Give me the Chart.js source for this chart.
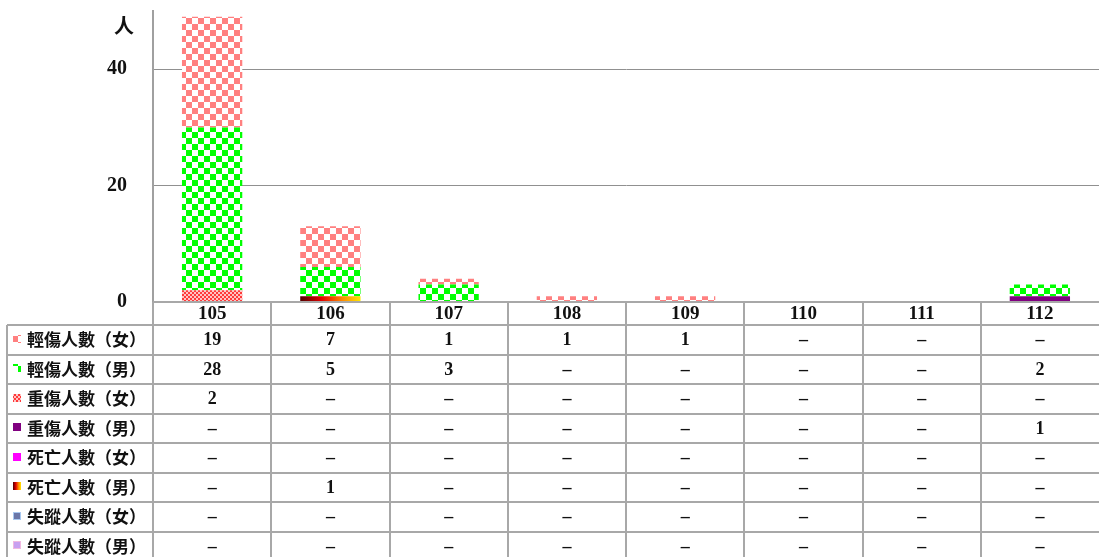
<!DOCTYPE html>
<html>
<head>
<meta charset="utf-8">
<script src="https://cdn.jsdelivr.net/npm/chart.js@4/dist/chart.umd.min.js"></script>
<style>
html,body{margin:0;padding:0;background:#fff;}
#wrap{width:1099px;height:557px;position:relative;}
</style>
</head>
<body>
<div id="wrap"><canvas id="c" width="1099" height="557"></canvas></div>
<script>
const categories = ['105','106','107','108','109','110','111','112'];
const seriesNames = ['輕傷人數（女）','輕傷人數（男）','重傷人數（女）','重傷人數（男）','死亡人數（女）','死亡人數（男）','失蹤人數（女）','失蹤人數（男）'];
const lightFemale  = [19,7,1,1,1,0,0,0];
const lightMale    = [28,5,3,0,0,0,0,2];
const heavyFemale  = [2,0,0,0,0,0,0,0];
const heavyMale    = [0,0,0,0,0,0,0,1];
const deathFemale  = [0,0,0,0,0,0,0,0];
const deathMale    = [0,1,0,0,0,0,0,0];
const missFemale   = [0,0,0,0,0,0,0,0];
const missMale     = [0,0,0,0,0,0,0,0];
const yTicks = [0,20,40];
const yUnit = '人';

const seriesValues = [lightFemale, lightMale, heavyFemale, heavyMale, deathFemale, deathMale, missFemale, missMale];

const SERIF = '"Liberation Serif", "Noto Sans CJK TC", serif';
const CJK = '"Noto Sans CJK TC", "Liberation Serif", serif';

function checker(c1, c2, s) {
  const cv = document.createElement('canvas');
  cv.width = cv.height = s * 2;
  const g = cv.getContext('2d');
  g.fillStyle = c2; g.fillRect(0, 0, s * 2, s * 2);
  g.fillStyle = c1; g.fillRect(0, 0, s, s); g.fillRect(s, s, s, s);
  return g.createPattern(cv, 'repeat');
}
const pinkPat = checker('#FF8080', '#FFFFFF', 6);
const greenPat = checker('#00FF00', '#FFFFFF', 6);
const redPat = checker('#FF3A3A', '#FFC4C4', 2);

const CAT_PCT = 0.51;
function deathGradient(ctx) {
  const chart = ctx.chart;
  const xs = chart.scales && chart.scales.x;
  if (!xs || !chart.chartArea || ctx.dataIndex === undefined) return '#FF4000';
  const cx = xs.getPixelForValue(ctx.dataIndex);
  const w = (xs.width / categories.length) * CAT_PCT;
  const g = chart.ctx.createLinearGradient(cx - w / 2, 0, cx + w / 2, 0);
  g.addColorStop(0, '#500000');
  g.addColorStop(0.35, '#E00000');
  g.addColorStop(0.7, '#FF8C00');
  g.addColorStop(1, '#FFE800');
  return g;
}
const seriesFills = [pinkPat, greenPat, redPat, '#800080', '#FF00FF', deathGradient, '#6A76A8', '#C8A0F0'];

// stacking: first dataset at bottom -> reverse table order
const datasets = seriesNames.map((n, i) => ({
  label: n,
  data: seriesValues[i],
  backgroundColor: seriesFills[i],
  borderWidth: 0,
  stack: 's',
  barPercentage: 1,
  categoryPercentage: CAT_PCT
})).reverse();

const ROW_TOP = 325, ROW_H = 29.5, LEFT = 7;
const LINE = '#A8A8A8';

const tablePlugin = {
  id: 'table',
  afterDraw(chart) {
    const c = chart.ctx;
    const xs = chart.scales.x;
    const area = chart.chartArea;
    const n = categories.length;
    const cw = (area.right - area.left) / n;
    const H = chart.height;
    c.save();
    // unit label
    c.fillStyle = '#111';
    c.font = 'bold 20px ' + CJK;
    c.textAlign = 'center';
    c.textBaseline = 'middle';
    c.fillText(yUnit, 124, 25);

    // lines
    c.strokeStyle = LINE;
    c.lineWidth = 2;
    c.beginPath();
    c.moveTo(area.left, area.bottom); c.lineTo(area.right, area.bottom);
    for (let r = 0; r <= seriesNames.length; r++) {
      const y = Math.round(ROW_TOP + r * ROW_H);
      c.moveTo(LEFT, y); c.lineTo(area.right, y);
    }
    c.moveTo(LEFT, ROW_TOP); c.lineTo(LEFT, H);
    c.moveTo(area.left, area.bottom); c.lineTo(area.left, H);
    for (let k = 1; k < n; k++) {
      const x = Math.round(xs.getPixelForValue(k) - cw / 2);
      c.moveTo(x, area.bottom); c.lineTo(x, H);
    }
    c.stroke();

    // row labels & icons & values
    for (let r = 0; r < seriesNames.length; r++) {
      const yc = ROW_TOP + (r + 0.5) * ROW_H;
      const ix = 13, iy = Math.round(yc - 5), is = 8;
      const f = seriesFills[r];
      if (typeof f === 'function') {
        const g = c.createLinearGradient(ix, 0, ix + is, 0);
        g.addColorStop(0, '#500000'); g.addColorStop(0.35, '#E00000');
        g.addColorStop(0.7, '#FF8C00'); g.addColorStop(1, '#FFE800');
        c.fillStyle = g;
      } else {
        c.fillStyle = f;
      }
      c.fillRect(ix, iy, is, is);
      if (r === 6) { c.strokeStyle = '#A8C8F0'; c.lineWidth = 1; c.strokeRect(ix + 0.5, iy + 0.5, is - 1, is - 1); }
      if (r === 7) { c.strokeStyle = '#F0B8E0'; c.lineWidth = 1; c.strokeRect(ix + 0.5, iy + 0.5, is - 1, is - 1); }
      c.fillStyle = '#111';
      c.font = 'bold 17px ' + CJK;
      c.textAlign = 'left';
      c.textBaseline = 'middle';
      c.fillText(seriesNames[r], 27, yc);
      c.font = 'bold 18px ' + SERIF;
      c.textAlign = 'center';
      for (let k = 0; k < n; k++) {
        const v = seriesValues[r][k];
        c.fillText(v ? String(v) : '–', xs.getPixelForValue(k), yc + 1);
      }
    }
    c.restore();
  }
};

new Chart(document.getElementById('c'), {
  type: 'bar',
  data: { labels: categories, datasets },
  options: {
    responsive: false,
    animation: false,
    events: [],
    layout: { padding: { top: 11, left: 0, right: 0, bottom: 0 } },
    plugins: { legend: { display: false }, tooltip: { enabled: false } },
    scales: {
      x: {
        stacked: true,
        grid: { display: false, drawTicks: false },
        border: { display: false },
        ticks: { color: '#111', font: { family: SERIF, size: 19, weight: 'bold' }, padding: 1, maxRotation: 0, autoSkip: false },
        afterFit(axis) { axis.height = 255; axis.paddingLeft = 0; axis.paddingRight = 0; }
      },
      y: {
        stacked: true,
        min: 0, max: 50,
        afterBuildTicks(axis) { axis.ticks = yTicks.map(v => ({ value: v })); },
        grid: { color: '#909090', lineWidth: 1, drawTicks: false },
        border: { display: true, color: '#A0A0A0', width: 2 },
        ticks: { color: '#111', font: { family: SERIF, size: 20, weight: 'bold' }, padding: 26 },
        afterFit(axis) { axis.width = 153; axis.paddingTop = 0; axis.paddingBottom = 0; }
      }
    }
  },
  plugins: [tablePlugin]
});
</script>
</body>
</html>
